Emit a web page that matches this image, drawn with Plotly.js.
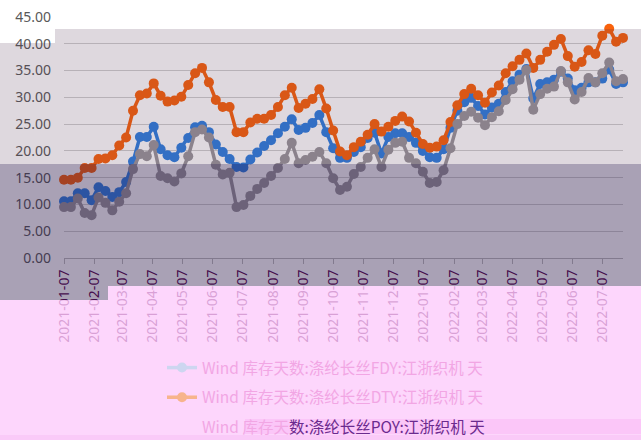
<!DOCTYPE html>
<html><head><meta charset="utf-8">
<script src="https://cdn.plot.ly/plotly-3.0.1.min.js"></script>
<style>html,body{margin:0;padding:0;background:#fff}#chart{width:641px;height:440px}</style>
</head><body><div id="chart"></div>
<script>
const dates = [
 '2021-01-07','2021-01-14','2021-01-21','2021-01-28','2021-02-04','2021-02-11','2021-02-18','2021-02-25',
 '2021-03-04','2021-03-11','2021-03-18','2021-03-25','2021-04-01','2021-04-08','2021-04-15','2021-04-22','2021-04-29',
 '2021-05-06','2021-05-13','2021-05-20','2021-05-27','2021-06-03','2021-06-10','2021-06-17','2021-06-24',
 '2021-07-01','2021-07-08','2021-07-15','2021-07-22','2021-07-29','2021-08-05','2021-08-12','2021-08-19','2021-08-26',
 '2021-09-02','2021-09-09','2021-09-16','2021-09-23','2021-09-30','2021-10-07','2021-10-14','2021-10-21','2021-10-28',
 '2021-11-04','2021-11-11','2021-11-18','2021-11-25','2021-12-02','2021-12-09','2021-12-16','2021-12-23','2021-12-30',
 '2022-01-06','2022-01-13','2022-01-20','2022-01-27','2022-02-03','2022-02-10','2022-02-17','2022-02-24',
 '2022-03-03','2022-03-10','2022-03-17','2022-03-24','2022-03-31','2022-04-07','2022-04-14','2022-04-21','2022-04-28',
 '2022-05-05','2022-05-12','2022-05-19','2022-05-26','2022-06-02','2022-06-09','2022-06-16','2022-06-23','2022-06-30',
 '2022-07-07','2022-07-14','2022-07-21','2022-07-28'];

const fdy = [10.6,10.6,12.1,12.1,10.8,13.2,12.5,11.4,12.3,14.2,18.0,22.6,22.6,24.5,20.3,19.2,18.8,
 20.6,22.4,24.4,24.7,23.5,21.2,19.8,18.5,17.0,16.9,18.4,19.7,20.9,22.0,23.3,24.5,25.9,
 23.9,24.3,25.2,26.7,23.5,20.5,18.7,18.7,19.8,20.7,22.4,23.4,19.5,22.6,23.3,23.3,22.6,21.5,
 20.0,18.8,18.7,20.3,24.3,27.5,29.1,29.9,28.4,26.8,28.1,28.8,31.0,33.0,34.2,35.3,29.8,
 32.5,32.8,33.3,34.8,33.5,31.3,31.8,32.8,32.8,33.5,35.2,32.5,32.8];

const dty = [14.6,14.6,15.0,16.8,16.8,18.5,18.6,19.2,21.0,22.5,27.5,30.4,30.7,32.6,30.3,29.2,29.4,
 30.1,32.3,34.5,35.5,32.8,29.5,28.2,28.2,23.5,23.5,25.3,26.0,26.0,26.7,28.2,30.4,31.8,
 28.0,28.8,29.7,31.5,27.9,23.8,19.9,19.2,20.7,21.7,23.0,25.0,23.6,24.5,25.6,26.4,25.5,23.4,
 21.3,20.6,20.8,22.0,25.4,28.5,30.6,31.6,30.4,29.0,30.9,32.2,34.5,35.8,37.0,38.2,35.5,
 37.0,38.5,39.8,40.9,37.7,35.7,36.6,38.8,38.1,41.5,42.8,40.4,41.1];

const poy = [9.5,9.5,11.1,8.4,8.0,11.3,10.3,8.9,10.5,12.1,16.6,19.4,19.0,21.1,15.3,14.9,14.3,
 15.8,19.0,23.5,24.0,22.5,17.4,15.6,15.9,9.5,9.9,11.6,12.9,14.0,15.3,16.8,18.5,21.5,
 17.7,18.3,18.9,19.8,17.7,14.9,12.7,13.3,15.7,17.0,18.7,20.3,17.0,20.2,21.5,21.7,18.7,17.7,
 16.1,14.0,14.2,16.4,20.5,25.0,26.5,27.3,26.2,24.8,26.3,27.4,29.5,31.5,33.3,35.1,27.7,
 30.6,31.6,32.0,34.9,32.8,29.6,31.0,33.6,32.8,34.5,36.5,33.0,33.4];

const tickDates = ['2021-01-07','2021-02-07','2021-03-07','2021-04-07','2021-05-07','2021-06-07','2021-07-07',
 '2021-08-07','2021-09-07','2021-10-07','2021-11-07','2021-12-07','2022-01-07','2022-02-07','2022-03-07',
 '2022-04-07','2022-05-07','2022-06-07','2022-07-07'];
const tickLabels = tickDates.slice();

const names = ['Wind 库存天数:涤纶长丝FDY:江浙织机 天',
               'Wind 库存天数:涤纶长丝DTY:江浙织机 天',
               'Wind 库存天<span style="color:#6b2a8e">数:涤纶长丝POY:江浙织机 天</span>'];
const colors = ['#2f7fe0','#f9620c','#9a979c'];
const legendColors = ['#cdd6f0','#f7b48c','rgba(0,0,0,0)'];
const series = [fdy, dty, poy];

const traces = [];
series.forEach((s,i)=>{
  traces.push({x:dates, y:s, type:'scatter', mode:'lines+markers', showlegend:false, cliponaxis:false,
    line:{color:colors[i], width:3.5}, marker:{color:colors[i], size:10}, hoverinfo:'skip'});
});
names.forEach((n,i)=>{
  traces.push({x:[null], y:[null], type:'scatter', mode:'lines+markers', name:n, legendgroup:'g'+i,
    line:{color:legendColors[i], width:3.5}, marker:{color:legendColors[i], size:10}});
});

const L=64, W=559, B=258, H=241;
const px = p => (p-L)/W, py = p => (B-p)/H;
function rect(x0,y0,x1,y1,fill){return {type:'rect',xref:'paper',yref:'paper',layer:'above',
  x0:px(x0),x1:px(x1),y0:py(y1),y1:py(y0),fillcolor:fill,line:{width:0}};}

const shapes = [
  rect(55,29,641,43,'rgba(70,40,70,0.18)'),
  rect(0,43,641,164,'rgba(70,40,70,0.18)'),
  rect(0,164,641,286,'rgba(40,20,70,0.40)'),
  rect(0,286,108,300,'rgba(40,20,70,0.40)'),
  rect(108,286,641,440,'rgba(252,202,251,0.78)'),
  rect(0,300,108,440,'rgba(252,202,251,0.78)'),
  rect(245,419,641,434,'rgba(245,170,240,0.35)'),
  rect(0,435,641,440,'rgba(245,175,240,0.3)')
];

const layout = {
  width:641, height:440,
  margin:{l:L, r:641-L-W, t:17, b:440-B, autoexpand:false},
  paper_bgcolor:'#ffffff', plot_bgcolor:'rgba(0,0,0,0)',
  font:{family:'Noto Sans, sans-serif', color:'#595959'},
  xaxis:{type:'date', range:['2021-01-07','2022-07-28'], tickmode:'array', tickvals:tickDates, ticktext:tickLabels,
    tickangle:-90, tickfont:{family:'Noto Sans', size:14, color:'#5a0a52'}, showgrid:false, zeroline:false,
    showline:true, linecolor:'#bfbfbf', linewidth:1, ticks:'outside', ticklen:5, tickcolor:'#bfbfbf',
    automargin:false},
  yaxis:{range:[0,45], dtick:5, tick0:0, tickformat:'.2f', showgrid:true, gridcolor:'#d0d0d0', gridwidth:1,
    zeroline:false, showline:false, ticks:'', tickfont:{family:'Noto Sans', size:14, color:'#595959'},
    ticklabelstandoff:12, automargin:false},
  showlegend:true,
  legend:{x:px(162), xanchor:'left', y:py(351), yanchor:'top', orientation:'v', traceorder:'grouped',
    tracegroupgap:6.5, bgcolor:'rgba(0,0,0,0)', font:{family:'Noto Sans CJK SC', size:15.5, color:'#f2a6e4'}},
  shapes:shapes
};

Plotly.newPlot('chart', traces, layout, {staticPlot:true, displayModeBar:false});
</script>
</body></html>
